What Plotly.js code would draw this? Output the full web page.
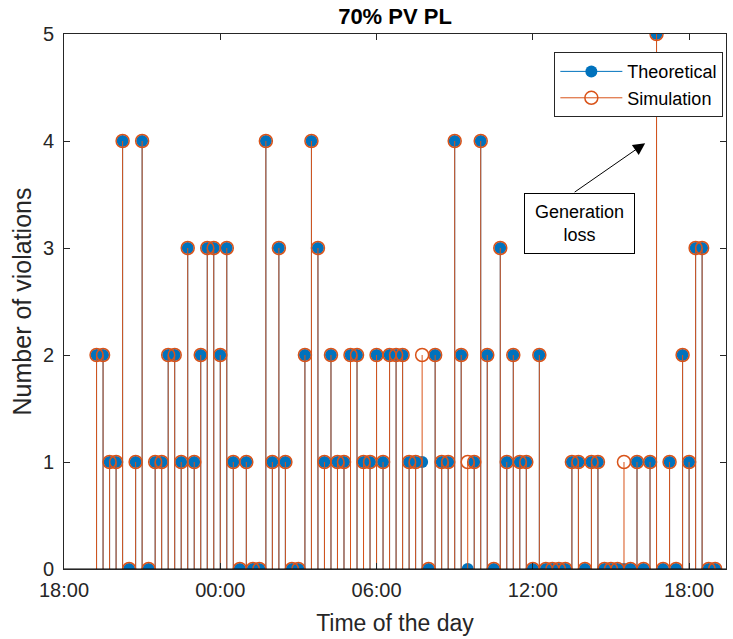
<!DOCTYPE html>
<html>
<head>
<meta charset="utf-8">
<script src="https://cdn.plot.ly/plotly-3.0.1.min.js"></script>
<style>html,body{margin:0;padding:0;background:#fff;}#chart{width:733px;height:639px;}</style>
</head>
<body>
<div id="chart"></div>
<script>
// Sample times (15-minute steps, from 19:15 on day 1 to 19:00 on day 2)
const timeLabels = [
  "19:15","19:30","19:45","20:00","20:15","20:30","20:45","21:00","21:15","21:30",
  "21:45","22:00","22:15","22:30","22:45","23:00","23:15","23:30","23:45","00:00",
  "00:15","00:30","00:45","01:00","01:15","01:30","01:45","02:00","02:15","02:30",
  "02:45","03:00","03:15","03:30","03:45","04:00","04:15","04:30","04:45","05:00",
  "05:15","05:30","05:45","06:00","06:15","06:30","06:45","07:00","07:15","07:30",
  "07:45","08:00","08:15","08:30","08:45","09:00","09:15","09:30","09:45","10:00",
  "10:15","10:30","10:45","11:00","11:15","11:30","11:45","12:00","12:15","12:30",
  "12:45","13:00","13:15","13:30","13:45","14:00","14:15","14:30","14:45","15:00",
  "15:15","15:30","15:45","16:00","16:15","16:30","16:45","17:00","17:15","17:30",
  "17:45","18:00","18:15","18:30","18:45","19:00"
];
const theoretical = [
  2,2,1,1,4,0,1,4,0,1,
  1,2,2,1,3,1,2,3,3,2,
  3,1,0,1,0,0,4,1,3,1,
  0,0,2,4,3,1,2,1,1,2,
  2,1,1,2,1,2,2,2,1,1,
  1,0,2,1,1,4,2,0,1,4,
  2,0,3,1,2,1,1,0,2,0,
  0,0,0,1,1,0,1,1,0,0,
  0,0,0,1,0,1,5,0,1,0,
  2,1,3,3,0,0
];
const simulation = [
  2,2,1,1,4,0,1,4,0,1,
  1,2,2,1,3,1,2,3,3,2,
  3,1,0,1,0,0,4,1,3,1,
  0,0,2,4,3,1,2,1,1,2,
  2,1,1,2,1,2,2,2,1,1,
  2,0,2,1,1,4,2,1,1,4,
  2,0,3,1,2,1,1,0,2,0,
  0,0,0,1,1,0,1,1,0,0,
  0,1,0,1,0,1,5,0,1,0,
  2,1,3,3,0,0
];
const seriesNames = ["Theoretical", "Simulation"];
const tickTimes = ["2020-01-01 18:00","2020-01-02 00:00","2020-01-02 06:00","2020-01-02 12:00","2020-01-02 18:00"];
const tickText = ["18:00","00:00","06:00","12:00","18:00"];

// build datetime values with day rollover
const times = [];
let day = 1, prev = null;
timeLabels.forEach(t => {
  if (prev !== null && t < prev) day = 2;
  prev = t;
  times.push("2020-01-0" + day + " " + t + ":00");
});

function stems(vals) {
  const x = [], y = [];
  vals.forEach((v, i) => { x.push(times[i], times[i], null); y.push(0, v, null); });
  return {x, y};
}
function pts(vals) {
  const x = [], y = [];
  vals.forEach((v, i) => { x.push(times[i], null); y.push(v, null); });
  return {x, y};
}

const blue = "#0072BD", orange = "#D95319";
const sT = stems(theoretical), pT = pts(theoretical);
const sS = stems(simulation), pS = pts(simulation);

const traces = [
  {type:"scatter", mode:"lines", x:sT.x, y:sT.y, line:{color:blue, width:1}, showlegend:false, hoverinfo:"skip"},
  {type:"scatter", mode:"lines+markers", x:pT.x, y:pT.y, name:seriesNames[0], connectgaps:false,
   line:{color:blue, width:1}, marker:{color:blue, size:12, line:{width:0}}},
  {type:"scatter", mode:"lines", x:sS.x, y:sS.y, line:{color:orange, width:1}, showlegend:false, hoverinfo:"skip"},
  {type:"scatter", mode:"lines+markers", x:pS.x, y:pS.y, name:seriesNames[1], connectgaps:false,
   line:{color:orange, width:1}, marker:{symbol:"circle-open", color:orange, size:13, line:{width:1.5, color:orange}}}
];

const font = "Liberation Sans, Arial, Helvetica, sans-serif";
const layout = {
  width:733, height:639,
  margin:{l:64, r:7, t:34, b:70},
  paper_bgcolor:"#fff", plot_bgcolor:"#fff",
  font:{family:font, color:"#262626", size:20},
  showlegend:true,
  title:{text:"<b>70% PV PL</b>", font:{family:font, size:22, color:"#000"}, x:0.5, xanchor:"center", y:0.975, yanchor:"middle", xref:"paper"},
  xaxis:{
    type:"date",
    range:["2020-01-01 18:00","2020-01-02 19:25"],
    tickmode:"array", tickvals:tickTimes, ticktext:tickText,
    ticks:"inside", ticklen:6, tickcolor:"#262626",
    showline:true, linecolor:"#262626", linewidth:1, mirror:"ticks",
    showgrid:false, zeroline:false, ticklabelstandoff:3,
    tickfont:{size:20, family:font, color:"#262626"},
    title:{text:"Time of the day", font:{size:23, family:font, color:"#262626"}, standoff:14}
  },
  yaxis:{
    range:[0,5], tickvals:[0,1,2,3,4,5],
    ticks:"inside", ticklen:6, tickcolor:"#262626",
    showline:true, linecolor:"#262626", linewidth:1, mirror:"ticks",
    showgrid:false, zeroline:false, ticklabelstandoff:5,
    tickfont:{size:20, family:font, color:"#262626"},
    title:{text:"Number of violations", font:{size:25, family:font, color:"#262626"}, standoff:4}
  },
  legend:{
    x:0.996, xanchor:"right", y:0.966, yanchor:"top",
    bgcolor:"#fff", bordercolor:"#262626", borderwidth:1,
    itemwidth:62, tracegroupgap:0,
    font:{size:18, family:font, color:"#000"}
  },
  annotations:[
    {x:"2020-01-02 16:18:45", y:3.98, xref:"x", yref:"y", text:"", showarrow:true,
     ax:-72, ay:50, axref:"pixel", ayref:"pixel", arrowhead:2, arrowsize:2.4, arrowwidth:1, arrowcolor:"#000"},
    {x:"2020-01-02 13:48:00", y:3.23, xref:"x", yref:"y", text:"Generation<br>loss", showarrow:false,
     font:{size:18, family:font, color:"#000"}, bgcolor:"#fff", bordercolor:"#000", borderwidth:1,
     width:105, height:55, borderpad:2, align:"center"}
  ],
  shapes:[
    {type:"line", xref:"paper", yref:"y", x0:0, x1:1, y0:0, y1:0, line:{color:"#000", width:1}}
  ]
};

Plotly.newPlot("chart", traces, layout, {displayModeBar:false, staticPlot:true});
</script>
</body>
</html>
